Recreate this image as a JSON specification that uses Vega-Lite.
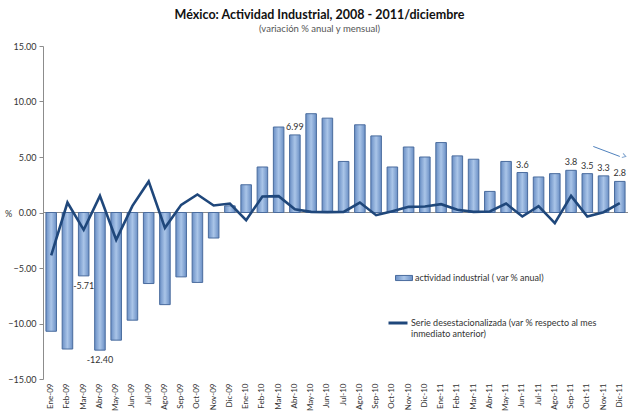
{
  "$schema": "https://vega.github.io/schema/vega-lite/v6.json",
  "width": 585,
  "height": 333,
  "autosize": {"type": "none"},
  "padding": {"left": 43, "top": 46, "right": 0, "bottom": 34},
  "background": "white",
  "config": {
    "font": "Lato",
    "view": {"stroke": null},
    "axisY": {
      "tickCount": 6,
      "format": ".2f",
      "grid": false,
      "domainColor": "#8c8c8c",
      "tickColor": "#8c8c8c",
      "tickSize": 4,
      "labelPadding": 3,
      "labelFontSize": 9,
      "labelColor": "#333",
      "titleAngle": 0,
      "titleFontSize": 9,
      "titleFontWeight": "normal",
      "titleColor": "#333",
      "titleX": -35,
      "titleY": 167,
      "titleAlign": "center",
      "titleBaseline": "middle"
    }
  },
  "title": {
    "text": "México: Actividad Industrial, 2008 - 2011/diciembre",
    "subtitle": "(variación % anual y mensual)",
    "fontSize": 12.5,
    "fontWeight": "bold",
    "color": "#111",
    "subtitleFontSize": 9.5,
    "subtitleColor": "#555",
    "subtitlePadding": 2,
    "anchor": "middle",
    "dx": -16,
    "offset": 9
  },
  "datasets": {
    "main": [
      {"m": "Ene-09", "ind": -10.7, "des": -3.87, "lab": null},
      {"m": "Feb-09", "ind": -12.3, "des": 0.9, "lab": null},
      {"m": "Mar-09", "ind": -5.71, "des": -1.56, "lab": "-5.71"},
      {"m": "Abr-09", "ind": -12.4, "des": 1.5, "lab": "-12.40"},
      {"m": "May-09", "ind": -11.5, "des": -2.46, "lab": null},
      {"m": "Jun-09", "ind": -9.7, "des": 0.6, "lab": null},
      {"m": "Jul-09", "ind": -6.4, "des": 2.8, "lab": null},
      {"m": "Ago-09", "ind": -8.3, "des": -1.38, "lab": null},
      {"m": "Sep-09", "ind": -5.8, "des": 0.69, "lab": null},
      {"m": "Oct-09", "ind": -6.3, "des": 1.62, "lab": null},
      {"m": "Nov-09", "ind": -2.3, "des": 0.63, "lab": null},
      {"m": "Dic-09", "ind": 0.6, "des": 0.81, "lab": null},
      {"m": "Ene-10", "ind": 2.5, "des": -0.69, "lab": null},
      {"m": "Feb-10", "ind": 4.1, "des": 1.44, "lab": null},
      {"m": "Mar-10", "ind": 7.7, "des": 1.47, "lab": null},
      {"m": "Abr-10", "ind": 6.99, "des": 0.3, "lab": "6.99"},
      {"m": "May-10", "ind": 8.9, "des": 0.06, "lab": null},
      {"m": "Jun-10", "ind": 8.5, "des": 0.03, "lab": null},
      {"m": "Jul-10", "ind": 4.6, "des": 0.06, "lab": null},
      {"m": "Ago-10", "ind": 7.9, "des": 0.9, "lab": null},
      {"m": "Sep-10", "ind": 6.9, "des": -0.24, "lab": null},
      {"m": "Oct-10", "ind": 4.1, "des": 0.12, "lab": null},
      {"m": "Nov-10", "ind": 5.9, "des": 0.51, "lab": null},
      {"m": "Dic-10", "ind": 5.0, "des": 0.54, "lab": null},
      {"m": "Ene-11", "ind": 6.3, "des": 0.75, "lab": null},
      {"m": "Feb-11", "ind": 5.1, "des": 0.24, "lab": null},
      {"m": "Mar-11", "ind": 4.8, "des": 0.06, "lab": null},
      {"m": "Abr-11", "ind": 1.9, "des": 0.09, "lab": null},
      {"m": "May-11", "ind": 4.6, "des": 0.81, "lab": null},
      {"m": "Jun-11", "ind": 3.6, "des": -0.36, "lab": "3.6"},
      {"m": "Jul-11", "ind": 3.2, "des": 0.57, "lab": null},
      {"m": "Ago-11", "ind": 3.5, "des": -0.96, "lab": null},
      {"m": "Sep-11", "ind": 3.8, "des": 1.5, "lab": "3.8"},
      {"m": "Oct-11", "ind": 3.5, "des": -0.36, "lab": "3.5"},
      {"m": "Nov-11", "ind": 3.3, "des": 0.03, "lab": "3.3"},
      {"m": "Dic-11", "ind": 2.8, "des": 0.84, "lab": "2.8"}
    ],
    "arrow": [
      {"m": "Oct-11", "m2": "Dic-11", "y": 5.95, "y2": 5.05}
    ]
  },
  "layer": [
    {
      "data": {"values": [{"z": 0}]},
      "mark": {"type": "rule", "color": "#8c8c8c", "strokeWidth": 1},
      "encoding": {
        "y": {
          "field": "z", "type": "quantitative", "title": "%",
          "scale": {"domain": [-15, 15], "nice": false}
        }
      }
    },
    {
      "data": {"name": "main"},
      "mark": {
        "type": "bar",
        "fill": {
          "gradient": "linear",
          "x1": 0, "x2": 1, "y1": 0, "y2": 0,
          "stops": [
            {"offset": 0, "color": "#6a8fc5"},
            {"offset": 0.5, "color": "#aac5e8"},
            {"offset": 1, "color": "#6a8fc5"}
          ]
        },
        "strokeWidth": 1
      },
      "encoding": {
        "x": {
          "field": "m", "type": "nominal", "sort": null, "title": null,
          "scale": {"paddingInner": 0.35, "paddingOuter": 0.18},
          "axis": {
            "labelAngle": 270, "labelFontSize": 8, "labelColor": "#333",
            "domain": false, "ticks": false, "labelPadding": 4
          }
        },
        "y": {"field": "ind", "type": "quantitative", "title": "%"},
        "stroke": {
          "datum": "actividad industrial ( var % anual)",
          "type": "nominal",
          "scale": {"range": ["#4a6c9e"]},
          "legend": {
            "orient": "none",
            "legendX": 352,
            "legendY": 223,
            "title": null,
            "symbolType": "M-1,-0.3H1V0.3H-1Z",
            "symbolSize": 289,
            "symbolFillColor": "#8eaedb",
            "symbolStrokeWidth": 1,
            "labelFontSize": 9,
            "labelColor": "#333",
            "labelOffset": 2
          }
        }
      }
    },
    {
      "data": {"name": "main"},
      "mark": {"type": "line", "strokeWidth": 2.6},
      "encoding": {
        "x": {"field": "m", "type": "nominal", "sort": null},
        "y": {"field": "des", "type": "quantitative", "title": "%"},
        "color": {
          "datum": "Serie desestacionalizada (var % respecto al mes inmediato anterior)",
          "type": "nominal",
          "scale": {"range": ["#1f477b"]},
          "legend": {
            "orient": "none",
            "legendX": 344,
            "legendY": 266,
            "title": null,
            "symbolType": "stroke",
            "symbolSize": 361,
            "symbolStrokeWidth": 3,
            "labelFontSize": 9,
            "labelColor": "#333",
            "labelOffset": 2,
            "labelLimit": 400,
            "labelExpr": "['Serie desestacionalizada (var % respecto al mes', 'inmediato anterior)']"
          }
        }
      }
    },
    {
      "data": {"name": "main"},
      "transform": [{"filter": "datum.lab != null && datum.ind > 0"}],
      "mark": {"type": "text", "baseline": "bottom", "dy": -3, "fontSize": 9, "color": "#333"},
      "encoding": {
        "x": {"field": "m", "type": "nominal", "sort": null},
        "y": {"field": "ind", "type": "quantitative", "title": "%"},
        "text": {"field": "lab"}
      }
    },
    {
      "data": {"name": "main"},
      "transform": [{"filter": "datum.lab != null && datum.ind < 0"}],
      "mark": {"type": "text", "baseline": "top", "dy": 6, "fontSize": 9, "color": "#333"},
      "encoding": {
        "x": {"field": "m", "type": "nominal", "sort": null},
        "y": {"field": "ind", "type": "quantitative", "title": "%"},
        "text": {"field": "lab"}
      }
    },
    {
      "data": {"name": "arrow"},
      "mark": {"type": "rule", "color": "#4f81bd", "strokeWidth": 1, "xOffset": 6},
      "encoding": {
        "x": {"field": "m", "type": "nominal", "sort": null},
        "x2": {"field": "m2"},
        "y": {"field": "y", "type": "quantitative", "title": "%"},
        "y2": {"field": "y2"}
      }
    },
    {
      "data": {"name": "arrow"},
      "mark": {"type": "point", "shape": "M-1,-0.6L0,0L-1,0.6", "filled": false, "color": "#4f81bd", "strokeWidth": 1, "size": 49, "angle": 17, "xOffset": 6},
      "encoding": {
        "x": {"field": "m2", "type": "nominal", "sort": null},
        "y": {"field": "y2", "type": "quantitative", "title": "%"}
      }
    }
  ]
}
